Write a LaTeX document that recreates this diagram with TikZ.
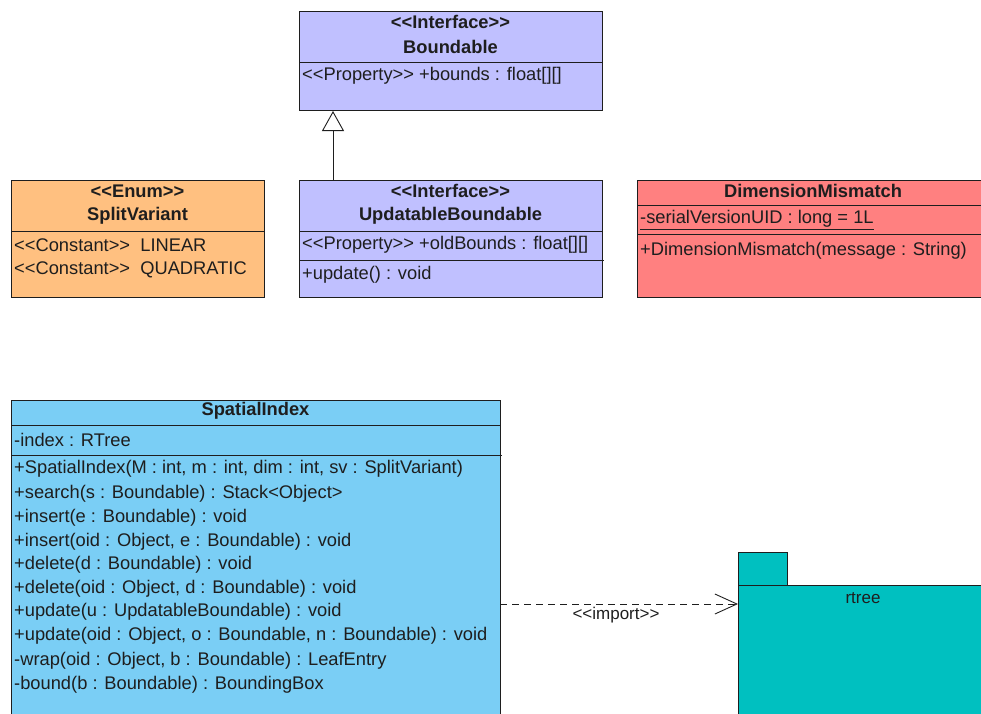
\documentclass[tikz,border=0pt]{standalone}
\usepackage{fontspec}
\setmainfont{Liberation Sans}[Ligatures=TeXOff]
\usetikzlibrary{arrows.meta}
\definecolor{ifacefill}{RGB}{192,192,255}
\definecolor{enumfill}{RGB}{255,192,128}
\definecolor{excfill}{RGB}{255,128,128}
\definecolor{classfill}{RGB}{122,206,245}
\definecolor{pkgfill}{RGB}{0,192,192}
\definecolor{ink}{RGB}{30,30,30}
\tikzset{
  x=1pt, y=-1pt,
  box/.style={draw=ink, line width=0.9pt, anchor=north west, inner sep=0pt, outer sep=0pt},
  member/.style={anchor=west, inner sep=0pt, text=ink, font=\fontsize{18.3}{20}\selectfont},
  title/.style={anchor=center, inner sep=0pt, text=ink, font=\fontsize{18.3}{20}\selectfont\bfseries},
  divider/.style={draw=ink, line width=0.9pt},
  realize/.style={draw=ink, line width=0.9pt, -{Triangle[open, width=22pt, length=20pt, fill=white]}},
  importdep/.style={draw=ink, line width=0.9pt, dash pattern=on 7pt off 5pt, -{Straight Barb[width=20pt, length=22pt, line width=0.9pt]}},
}
\begin{document}
\begin{tikzpicture}
\useasboundingbox (0,0) rectangle (981,713);
\clip (0,0) rectangle (981,713);

% Boundable
\node[box, fill=ifacefill, minimum width=303pt, minimum height=99pt] (bnd) at (299,11) {};
\draw[divider] (299,62) -- (602,62);
\node[title] (bndst) at (450.5,22) {<<Interface>>};
\node[title] (bndnm) at (450.5,47) {Boundable};
\node[member] (bndp) at (302,76) {<<Property>> +bounds : float[][]};

% UpdatableBoundable
\node[box, fill=ifacefill, minimum width=303pt, minimum height=117pt] (upd) at (299,180) {};
\draw[divider] (299,231) -- (602,231);
\draw[divider] (299,260) -- (604,260);
\node[title] (updst) at (450.5,191) {<<Interface>>};
\node[title] (updnm) at (450.5,216) {UpdatableBoundable};
\node[member] (updp) at (302,245) {<<Property>> +oldBounds : float[][]};
\node[member] (updm) at (302,275) {+update() : void};

% SplitVariant
\node[box, fill=enumfill, minimum width=253pt, minimum height=117pt] (spl) at (11,180) {};
\draw[divider] (11,231) -- (264,231);
\node[title] (splst) at (137.5,191) {<<Enum>>};
\node[title] (splnm) at (137.5,216) {SplitVariant};
\node[member] (splc1) at (14,245) {<<Constant>>\ \ LINEAR};
\node[member] (splc2) at (14,270) {<<Constant>>\ \ QUADRATIC};

% DimensionMismatch
\node[box, fill=excfill, minimum width=352pt, minimum height=117pt] (dim) at (637,180) {};
\draw[divider] (637,205) -- (989,205);
\draw[divider] (637,234) -- (989,234);
\node[title] (dimnm) at (813,191) {DimensionMismatch};
\node[member] (dima) at (640,220) {\underline{-serialVersionUID : long = 1L}};
\node[member] (dimm) at (640,251) {+DimensionMismatch(message : String)};

% SpatialIndex
\node[box, fill=classfill, minimum width=489pt, minimum height=330pt] (spi) at (11,400) {};
\draw[divider] (11,425) -- (500,425);
\draw[divider] (11,455) -- (502,455);
\node[title] (spinm) at (255.5,411) {SpatialIndex};
\node[member] (spia) at (14,440) {-index : RTree};
\node[member] (spi1) at (14,469) {+SpatialIndex(M : int, m : int, dim : int, sv : SplitVariant)};
\node[member] (spi2) at (14,494) {+search(s : Boundable) : Stack<Object>};
\node[member] (spi3) at (14,518) {+insert(e : Boundable) : void};
\node[member] (spi4) at (14,542) {+insert(oid : Object, e : Boundable) : void};
\node[member] (spi5) at (14,565) {+delete(d : Boundable) : void};
\node[member] (spi6) at (14,589) {+delete(oid : Object, d : Boundable) : void};
\node[member] (spi7) at (14,612) {+update(u : UpdatableBoundable) : void};
\node[member] (spi8) at (14,636) {+update(oid : Object, o : Boundable, n : Boundable) : void};
\node[member] (spi9) at (14,661) {-wrap(oid : Object, b : Boundable) : LeafEntry};
\node[member] (spi10) at (14,685) {-bound(b : Boundable) : BoundingBox};

% rtree package
\node[box, fill=pkgfill, minimum width=49pt, minimum height=33pt] (pkgtab) at (738,552) {};
\node[box, fill=pkgfill, minimum width=260pt, minimum height=140pt] (pkg) at (738,585) {};
\node[member, anchor=center, font=\fontsize{17}{20}\selectfont] (pkgnm) at (863,598) {rtree};

% connectors
\draw[realize] (upd.north -| 333,0) -- (333,111);
\coordinate (impA) at (500,604);
\coordinate (impB) at (738,604);
\draw[importdep] (impA) -- (impB);
\node[member, anchor=center, font=\fontsize{17}{20}\selectfont] (implbl) at (616,615) {<<import>>};
\end{tikzpicture}
\end{document}
